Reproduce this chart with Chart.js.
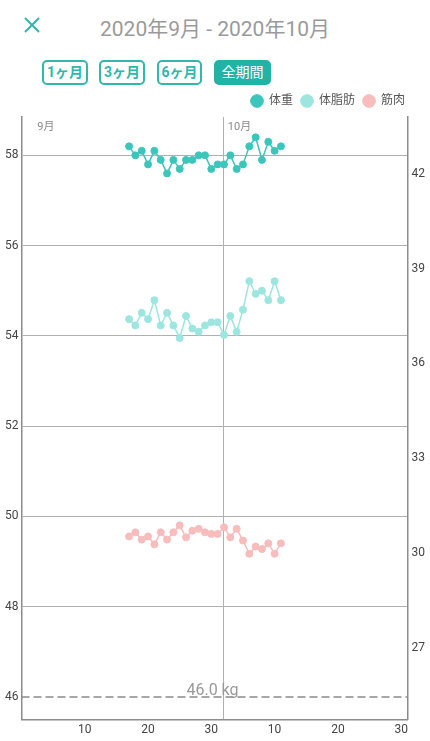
<!DOCTYPE html>
<html lang="ja">
  <head>
    <meta charset="UTF-8" />
    <meta name="viewport" content="width=device-width, initial-scale=1.0" />
    <script src="https://cdn.jsdelivr.net/npm/chart.js"></script>
    <title>体組成グラフ</title>
    <style>
      body {
        margin: 0;
        width: 430px;
        height: 741px;
        background: #fff;
        font-family: Roboto, "Noto Sans CJK JP", sans-serif;
        position: relative;
        overflow: hidden;
      }
      .fechar {
        position: absolute;
        left: 23px;
        top: 16px;
      }
      .titulo {
        position: absolute;
        top: 12px;
        left: 0;
        width: 430px;
        text-align: center;
        font-size: 21px;
        color: #9a9a9a;
      }
      .periodo {
        position: absolute;
        top: 60px;
        height: 25px;
        box-sizing: border-box;
        border: 2px solid #2fb8ac;
        border-radius: 5px;
        color: #2fb8ac;
        font-size: 14px;
        font-weight: bold;
        line-height: 21px;
        text-align: center;
      }
      .periodo.ativo {
        background: #22b3a6;
        border-color: #22b3a6;
        color: #fff;
        font-weight: normal;
      }
      .grafico {
        position: absolute;
        left: 0;
        top: 87px;
        width: 430px;
        height: 654px;
      }
    </style>
  </head>
  <body>
    <svg class="fechar" width="18" height="18" viewBox="0 0 18 18">
      <path d="M2 2 L16 16 M16 2 L2 16" stroke="#2fb8ac" stroke-width="2" />
    </svg>
    <div class="titulo">2020年9月 - 2020年10月</div>
    <div class="periodo" style="left: 42px; width: 46px">1ヶ月</div>
    <div class="periodo" style="left: 99px; width: 46px">3ヶ月</div>
    <div class="periodo" style="left: 157px; width: 45px">6ヶ月</div>
    <div class="periodo ativo" style="left: 214px; width: 57px">全期間</div>

    <div class="grafico">
      <canvas id="graficoPeso"></canvas>
    </div>

    <script>
      // dias: 1-30 = setembro, 31+ = outubro
      const dias = [17, 18, 19, 20, 21, 22, 23, 24, 25, 26, 27, 28, 29, 30,
        31, 32, 33, 34, 35, 36, 37, 38, 39, 40, 41];

      const peso = [58.2, 58.0, 58.1, 57.8, 58.1, 57.9, 57.6, 57.9, 57.7, 57.9,
        57.9, 58.0, 58.0, 57.7, 57.8, 57.8, 58.0, 57.7, 57.8, 58.2,
        58.4, 57.9, 58.3, 58.1, 58.2];

      const gordura = [37.4, 37.2, 37.6, 37.4, 38.0, 37.2, 37.6, 37.2, 36.8, 37.5,
        37.1, 37.0, 37.2, 37.3, 37.3, 36.9, 37.5, 37.0, 37.7, 38.6,
        38.2, 38.3, 38.0, 38.6, 38.0];

      const musculo = [30.52, 30.65, 30.42, 30.52, 30.27, 30.65, 30.42, 30.65, 30.87, 30.49,
        30.7, 30.76, 30.65, 30.6, 30.6, 30.81, 30.49, 30.76, 30.39, 29.97,
        30.2, 30.12, 30.3, 29.97, 30.3];

      const pesoMeta = 46.0;

      const ticksEsquerda = [46, 48, 50, 52, 54, 56, 58];
      const ticksDireita = [27, 30, 33, 36, 39, 42];
      const ticksDias = [10, 20, 30, 40, 50, 60];
      const inicioOutubro = 32;
      const meses = ["9月", "10月"];
      const posicaoMeses = [2.5, 32.6];

      function pontos(valores) {
        return valores.map((v, i) => ({ x: dias[i], y: v }));
      }

      const corTexto = "#444";
      const corGrade = "#b0b0b0";
      const corEixo = "#8c8c8c";

      // rotulos dos meses e da meta
      const textosExtras = {
        id: "textosExtras",
        afterLayout(chart) {
          // legenda um pouco afastada da borda direita
          chart.legend.right -= 16;
        },
        afterDatasetsDraw(chart) {
          const { ctx, chartArea, scales } = chart;
          ctx.save();
          ctx.font = "11px Roboto, 'Noto Sans CJK JP', sans-serif";
          ctx.fillStyle = "#8a8a8a";
          ctx.textAlign = "left";
          ctx.textBaseline = "middle";
          meses.forEach((m, i) => {
            ctx.fillText(m, scales.x.getPixelForValue(posicaoMeses[i]), chartArea.top + 10);
          });
          ctx.font = "16px Roboto, 'Noto Sans CJK JP', sans-serif";
          ctx.fillStyle = "#999";
          ctx.textAlign = "center";
          ctx.textBaseline = "alphabetic";
          ctx.fillText(
            pesoMeta.toFixed(1) + " kg",
            (chartArea.left + chartArea.right) / 2 - 2,
            scales.y.getPixelForValue(pesoMeta) - 2
          );
          ctx.restore();
        },
      };

      Chart.defaults.font.family = "Roboto, 'Noto Sans CJK JP', sans-serif";

      new Chart(document.getElementById("graficoPeso"), {
        type: "line",
        data: {
          datasets: [
            {
              label: "体重",
              data: pontos(peso),
              yAxisID: "y",
              borderColor: "#3cc6bb",
              backgroundColor: "#3cc6bb",
              borderWidth: 1.5,
              pointRadius: 3.5,
              pointBorderWidth: 1,
              tension: 0,
            },
            {
              label: "体脂肪",
              data: pontos(gordura),
              yAxisID: "y2",
              borderColor: "#9de6df",
              backgroundColor: "#9de6df",
              borderWidth: 1.5,
              pointRadius: 3.5,
              pointBorderWidth: 1,
              tension: 0,
            },
            {
              label: "筋肉",
              data: pontos(musculo),
              yAxisID: "y2",
              borderColor: "#f8bcbc",
              backgroundColor: "#f8bcbc",
              borderWidth: 1.5,
              pointRadius: 3.5,
              pointBorderWidth: 1,
              tension: 0,
            },
            {
              label: "meta",
              data: [
                { x: 0, y: pesoMeta },
                { x: 61, y: pesoMeta },
              ],
              yAxisID: "y",
              borderColor: "#8a8a8a",
              borderWidth: 1.5,
              borderDash: [8, 4],
              pointRadius: 0,
            },
          ],
        },
        options: {
          responsive: true,
          maintainAspectRatio: false,
          animation: false,
          layout: {
            padding: { left: 2, right: 1, top: 0, bottom: 1 },
          },
          plugins: {
            tooltip: { enabled: false },
            legend: {
              position: "top",
              align: "end",
              labels: {
                usePointStyle: true,
                pointStyle: "circle",
                boxWidth: 12,
                boxHeight: 9,
                padding: 8,
                color: "#555",
                font: { size: 12 },
                filter: (item) => item.text !== "meta",
              },
            },
          },
          scales: {
            x: {
              type: "linear",
              min: 0,
              max: 61,
              afterBuildTicks: (s) => {
                s.ticks = [...ticksDias, inicioOutubro].map((v) => ({ value: v }));
              },
              ticks: {
                autoSkip: false,
                maxRotation: 0,
                padding: 3,
                color: corTexto,
                font: { size: 12 },
                callback: (v) => (v === inicioOutubro ? "" : v > 30 ? v - 30 : v),
              },
              grid: {
                drawTicks: false,
                color: (c) => (c.tick && c.tick.value === inicioOutubro ? corGrade : "transparent"),
              },
              border: { color: corEixo, width: 1.5 },
            },
            y: {
              position: "left",
              min: 45.5,
              max: 58.85,
              afterBuildTicks: (s) => {
                s.ticks = ticksEsquerda.map((v) => ({ value: v }));
              },
              ticks: { padding: 3, color: corTexto, font: { size: 12 } },
              grid: {
                drawTicks: false,
                color: (c) => (c.tick && c.tick.value === pesoMeta ? "transparent" : corGrade),
              },
              border: { color: corEixo, width: 1.5 },
            },
            y2: {
              position: "right",
              min: 24.72,
              max: 43.8,
              afterBuildTicks: (s) => {
                s.ticks = ticksDireita.map((v) => ({ value: v }));
              },
              ticks: { padding: 4, color: corTexto, font: { size: 12 } },
              grid: { drawOnChartArea: false, drawTicks: false },
              border: { color: corEixo, width: 1.5 },
            },
          },
        },
        plugins: [textosExtras],
      });
    </script>
  </body>
</html>
